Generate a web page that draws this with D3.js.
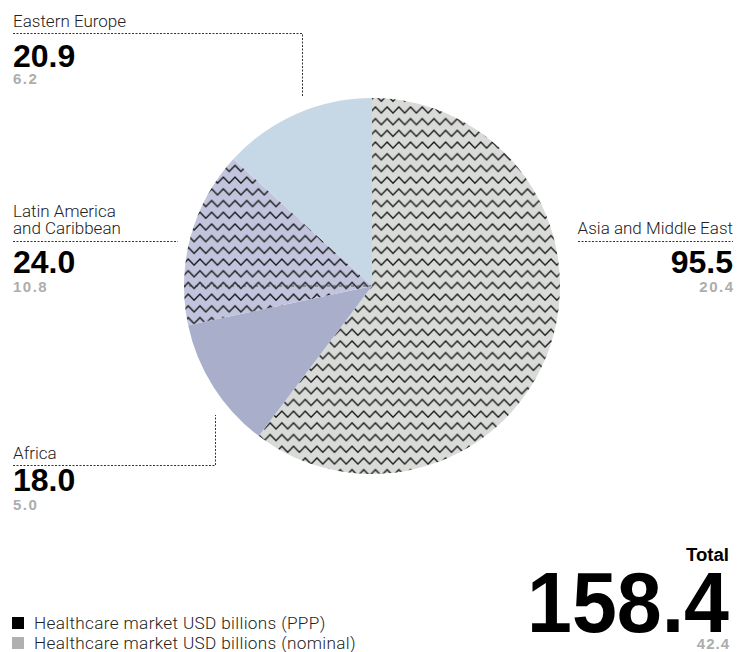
<!DOCTYPE html>
<html><head><meta charset="utf-8">
<script src="https://cdn.jsdelivr.net/npm/d3@7"></script>
<style>body{margin:0;background:#fff}</style>
</head><body><svg id="c" width="751" height="652"></svg>
<script>
// ---- data ----
const regions = ["Asia and Middle East", "Africa", "Latin America and Caribbean", "Eastern Europe"];
const pppValues = [95.5, 18.0, 24.0, 20.9];
const nominalValues = [20.4, 5.0, 10.8, 6.2];
const totalPPP = 158.4;
const totalNominal = 42.4;
const legendLabels = ["Healthcare market USD billions (PPP)", "Healthcare market USD billions (nominal)"];

// ---- layout / style ----
const cx = 372, cy = 286, R = 188;
const svg = d3.select("#c");
const defs = svg.append("defs");

function zigzag(id, bg) {
  const s = 11.7;
  const p = defs.append("pattern").attr("id", id)
    .attr("patternUnits", "userSpaceOnUse").attr("width", s).attr("height", s)
    .attr("x", cx).attr("y", cy);
  p.append("rect").attr("width", s).attr("height", s).attr("fill", bg);
  p.append("path").attr("d", `M-0.6,9.6 L${s / 2},3 L${s + 0.6},9.6`)
    .attr("fill", "none").attr("stroke", "#151515").attr("stroke-width", 1.35);
}
zigzag("zzGrey", "#d9dbd8");
zigzag("zzBlue", "#c1c4dc");

const fills = ["url(#zzGrey)", "#a9afca", "url(#zzBlue)", "#c6d8e6"];

const pie = d3.pie().sort(null).value(d => d)(pppValues);
const arc = d3.arc().innerRadius(0).outerRadius(R);
const g = svg.append("g").attr("transform", `translate(${cx},${cy})`);

pie.forEach((d, i) => {
  defs.append("clipPath").attr("id", "clip" + i)
    .append("path").attr("d", arc(d));
});

g.selectAll("path.slice").data(pie).join("path")
  .attr("class", "slice")
  .attr("d", arc)
  .attr("fill", (d, i) => fills[i]);

// faint dashed seam in the Latin America slice
g.append("line").attr("x1", 0).attr("y1", 0).attr("x2", -R).attr("y2", 0)
  .attr("clip-path", "url(#clip2)")
  .attr("stroke", "#333").attr("stroke-width", 1).attr("stroke-dasharray", "3,3").attr("opacity", 0.75);

// ---- labels ----
const labelFont = "Roboto, 'Liberation Sans', Arial, sans-serif";
const numFont = "'Liberation Sans', Arial, Helvetica, sans-serif";
const labelLayout = [
  { x: 733, anchor: "end", lines: ["Asia and Middle East"], lineBase: 234.3,
    leader: [[578, 241.5], [733, 241.5]], numBase: 272.7, nomBase: 292 },
  { x: 13, anchor: "start", lines: ["Africa"], lineBase: 459,
    leader: [[13, 465.5], [215.5, 465.5], [215.5, 415]], numBase: 490.7, nomBase: 509.5 },
  { x: 13, anchor: "start", lines: ["Latin America", "and Caribbean"], lineBase: 216.7,
    leader: [[13, 241.5], [178, 241.5]], numBase: 273.3, nomBase: 291.5 },
  { x: 13, anchor: "start", lines: ["Eastern Europe"], lineBase: 26.5,
    leader: [[13, 33.5], [302.5, 33.5], [302.5, 96]], numBase: 66.7, nomBase: 83.5 }
];

const lab = svg.append("g");
regions.forEach((r, i) => {
  const L = labelLayout[i];
  L.lines.forEach((t, k) => {
    lab.append("text").attr("x", L.x).attr("y", L.lineBase + k * 17.5)
      .attr("text-anchor", L.anchor)
      .attr("font-family", labelFont).attr("font-weight", 300).attr("font-size", 17)
      .attr("fill", "#222").text(t);
  });
  lab.append("path").attr("d", d3.line()(L.leader))
    .attr("fill", "none").attr("stroke", "#333").attr("stroke-width", 1)
    .attr("stroke-dasharray", "2,1.5");
  lab.append("text").attr("x", L.x).attr("y", L.numBase)
    .attr("text-anchor", L.anchor)
    .attr("font-family", numFont).attr("font-weight", "bold").attr("font-size", 32)
    .attr("fill", "#000").text(d3.format(".1f")(pppValues[i]));
  lab.append("text").attr("x", L.anchor === "end" ? L.x + 1.5 : L.x).attr("y", L.nomBase)
    .attr("text-anchor", L.anchor)
    .attr("font-family", numFont).attr("font-weight", "bold").attr("font-size", 15)
    .attr("letter-spacing", 1.5)
    .attr("fill", "#adadad").text(d3.format(".1f")(nominalValues[i]));
});

// ---- total ----
svg.append("text").attr("x", 729).attr("y", 561).attr("text-anchor", "end")
  .attr("font-family", "'Liberation Sans Narrow', " + numFont).attr("font-weight", "bold")
  .attr("font-size", 18).attr("fill", "#000")
  .attr("textLength", 43).attr("lengthAdjust", "spacingAndGlyphs").text("Total");
svg.append("text").attr("x", 527).attr("y", 632)
  .attr("font-family", "'Liberation Sans Narrow', " + numFont).attr("font-weight", "bold")
  .attr("font-size", 86).attr("fill", "#000")
  .attr("textLength", 202).attr("lengthAdjust", "spacingAndGlyphs")
  .text(d3.format(".1f")(totalPPP));
svg.append("text").attr("x", 730).attr("y", 649).attr("text-anchor", "end")
  .attr("font-family", numFont).attr("font-weight", "bold").attr("font-size", 15)
  .attr("letter-spacing", 1).attr("fill", "#adadad").text(d3.format(".1f")(totalNominal));

// ---- legend ----
const legColors = ["#000", "#b0b1ae"];
legendLabels.forEach((t, i) => {
  svg.append("rect").attr("x", 12).attr("y", 617 + i * 20).attr("width", 12).attr("height", 12)
    .attr("fill", legColors[i]);
  svg.append("text").attr("x", 34).attr("y", 629 + i * 20)
    .attr("font-family", labelFont).attr("font-weight", 300).attr("font-size", 17.2)
    .attr("letter-spacing", 0.33)
    .attr("fill", "#222").text(t);
});
</script>
</body></html>
